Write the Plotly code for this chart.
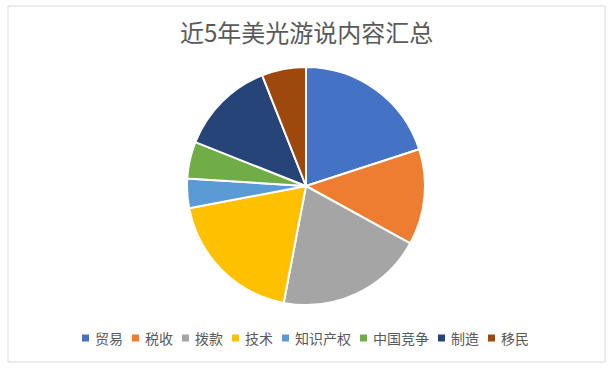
import plotly.graph_objects as go

W, H = 609, 368

categories = ["贸易", "税收", "拨款", "技术", "知识产权", "中国竞争", "制造", "移民"]
values = [20, 13, 20, 19, 4, 5, 13, 6]
colors = ["#4472C4", "#ED7D31", "#A5A5A5", "#FFC000", "#5B9BD5", "#70AD47", "#264478", "#9E480E"]
title_text = "近5年美光游说内容汇总"

FONT = "Noto Sans CJK SC, Microsoft YaHei, sans-serif"
TEXT_COLOR = "#595959"

# pie geometry (pixels)
cx, cy, r = 306, 186, 119

fig = go.Figure(go.Pie(
    labels=categories,
    values=values,
    sort=False,
    direction="clockwise",
    rotation=0,
    textinfo="none",
    hoverinfo="label+value+percent",
    marker=dict(colors=colors, line=dict(color="white", width=2)),
    domain=dict(x=[(cx - r) / W, (cx + r) / W], y=[1 - (cy + r) / H, 1 - (cy - r) / H]),
    showlegend=False,
))

shapes = [dict(type="rect", xref="paper", yref="paper",
               x0=8 / W, x1=605 / W, y0=1 - 362 / H, y1=1 - 6 / H,
               line=dict(color="#D9D9D9", width=1), fillcolor="rgba(0,0,0,0)")]
annotations = [dict(text=title_text, xref="paper", yref="paper",
                    x=306 / W, y=1 - 32 / H, xanchor="center", yanchor="middle",
                    showarrow=False, font=dict(family=FONT, size=24, color=TEXT_COLOR))]

# custom legend
fs = 14
msize = 7
gap_mt = 6
gap_item = 9
widths = [msize + gap_mt + len(c) * fs for c in categories]
total = sum(widths) + gap_item * (len(categories) - 1)
x = (W - total) / 2 + 1
ly = 338
for c, col, w in zip(categories, colors, widths):
    shapes.append(dict(type="rect", xref="paper", yref="paper",
                       x0=x / W, x1=(x + msize) / W,
                       y0=1 - (ly + msize / 2) / H, y1=1 - (ly - msize / 2) / H,
                       line=dict(width=0), fillcolor=col))
    annotations.append(dict(text=c, xref="paper", yref="paper",
                            x=(x + msize + gap_mt - 2) / W, y=1 - ly / H,
                            xanchor="left", yanchor="middle", showarrow=False,
                            font=dict(family=FONT, size=fs, color=TEXT_COLOR)))
    x += w + gap_item

fig.update_layout(
    width=W, height=H,
    margin=dict(l=0, r=0, t=0, b=0),
    paper_bgcolor="white", plot_bgcolor="white",
    shapes=shapes, annotations=annotations,
    showlegend=False,
)

fig.write_html("out.html")
